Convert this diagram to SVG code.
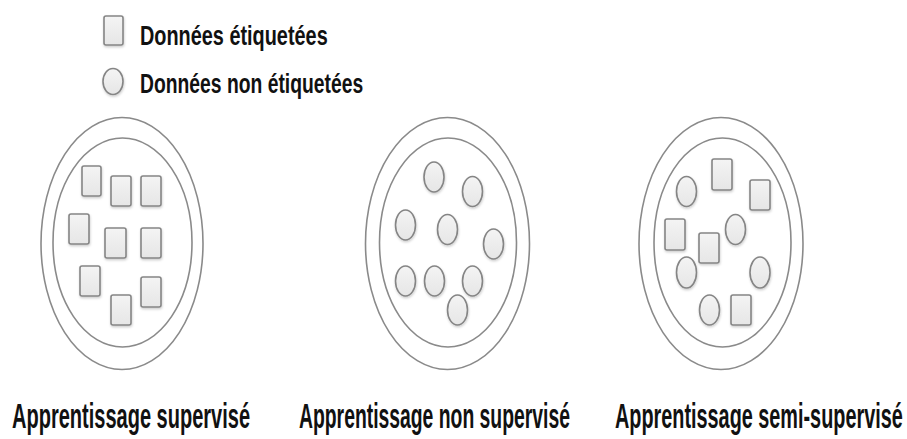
<svg xmlns="http://www.w3.org/2000/svg" width="907" height="439" viewBox="0 0 907 439">
<style>
.plate{fill:none;stroke:#8a8a8a;stroke-width:1.6}
.sq{fill:url(#g);stroke:#858585;stroke-width:1.6;filter:url(#sh)}
.ci{fill:url(#g);stroke:#858585;stroke-width:1.6;filter:url(#sh)}
.lg{font-family:"Liberation Sans",Arial,sans-serif;font-size:28px;font-weight:bold;fill:#111}
.cap{font-family:"Liberation Sans",Arial,sans-serif;font-size:35px;font-weight:bold;fill:#111}
</style>
<defs>
<linearGradient id="g" x1="0" y1="0" x2="0" y2="1">
<stop offset="0" stop-color="#f4f4f4"/>
<stop offset="1" stop-color="#e6e6e6"/>
</linearGradient>
<filter id="sh" x="-30%" y="-30%" width="160%" height="160%">
<feDropShadow dx="0.5" dy="1.5" stdDeviation="1.2" flood-color="#000" flood-opacity="0.2"/>
</filter>
</defs>
<g id="legend">
<rect class="sq" x="104" y="16" width="19" height="29" rx="2"/>
<text class="lg" transform="translate(140,45) scale(0.71,1)">Données étiquetées</text>
<ellipse class="ci" cx="113" cy="81.5" rx="10" ry="13"/>
<text class="lg" transform="translate(140,93) scale(0.69,1)">Données non étiquetées</text>
</g>
<g id="supervise">
<ellipse class="plate" cx="122" cy="243.5" rx="81" ry="126"/>
<ellipse class="plate" cx="122.5" cy="242.5" rx="69.5" ry="104.5"/>
<rect class="sq" x="82" y="166" width="19" height="30" rx="2"/>
<rect class="sq" x="111" y="176" width="20" height="30" rx="2"/>
<rect class="sq" x="141" y="176" width="20" height="30" rx="2"/>
<rect class="sq" x="69" y="214" width="20" height="30" rx="2"/>
<rect class="sq" x="105" y="228" width="21" height="30" rx="2"/>
<rect class="sq" x="141" y="228" width="20" height="30" rx="2"/>
<rect class="sq" x="80" y="266" width="20" height="30" rx="2"/>
<rect class="sq" x="111" y="295" width="20" height="30" rx="2"/>
<rect class="sq" x="141" y="277" width="20" height="30" rx="2"/>
<text class="cap" transform="translate(12,428) scale(0.572,1)">Apprentissage supervisé</text>
</g>
<g id="non-supervise">
<ellipse class="plate" cx="447.5" cy="243.5" rx="82" ry="126"/>
<ellipse class="plate" cx="448" cy="242.5" rx="68.5" ry="104.5"/>
<ellipse class="ci" cx="434" cy="177" rx="10" ry="15"/>
<ellipse class="ci" cx="472.5" cy="191.5" rx="10" ry="15"/>
<ellipse class="ci" cx="405.5" cy="225" rx="10" ry="15"/>
<ellipse class="ci" cx="447.5" cy="229.5" rx="10" ry="15"/>
<ellipse class="ci" cx="493.5" cy="244" rx="10" ry="15"/>
<ellipse class="ci" cx="405.5" cy="281" rx="10" ry="15"/>
<ellipse class="ci" cx="434.5" cy="281" rx="10" ry="15"/>
<ellipse class="ci" cx="472.5" cy="281" rx="10" ry="15"/>
<ellipse class="ci" cx="457.5" cy="310" rx="10" ry="15"/>
<text class="cap" transform="translate(299,428) scale(0.553,1)">Apprentissage non supervisé</text>
</g>
<g id="semi-supervise">
<ellipse class="plate" cx="721" cy="243.5" rx="82" ry="126"/>
<ellipse class="plate" cx="722.5" cy="242.5" rx="68.5" ry="104.5"/>
<rect class="sq" x="712" y="159" width="20" height="31" rx="2"/>
<rect class="sq" x="750" y="180" width="20" height="30" rx="2"/>
<rect class="sq" x="665" y="219" width="20" height="31" rx="2"/>
<rect class="sq" x="699" y="233" width="20" height="30" rx="2"/>
<rect class="sq" x="731" y="295" width="20" height="30" rx="2"/>
<ellipse class="ci" cx="686.5" cy="191.5" rx="10" ry="15"/>
<ellipse class="ci" cx="735.5" cy="229.5" rx="10" ry="15"/>
<ellipse class="ci" cx="686.5" cy="272.5" rx="10" ry="15.5"/>
<ellipse class="ci" cx="760" cy="272.5" rx="10" ry="15.5"/>
<ellipse class="ci" cx="709.5" cy="310" rx="10" ry="15"/>
<text class="cap" transform="translate(615,428) scale(0.567,1)">Apprentissage semi-supervisé</text>
</g>
</svg>
